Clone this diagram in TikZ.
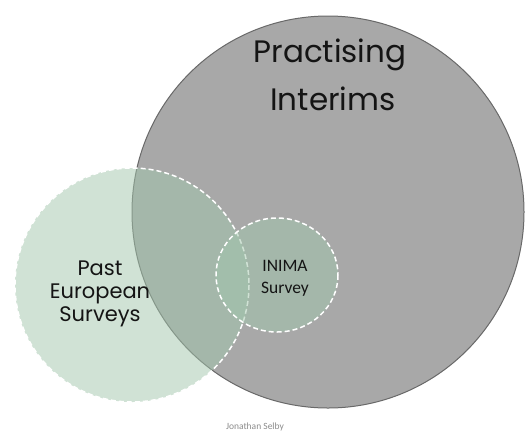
\documentclass[tikz,border=0pt]{standalone}
\usepackage{fontspec}
\newfontfamily\poppinsfont{Poppins}
\newfontfamily\carlitofont{Carlito}
\begin{document}
\begin{tikzpicture}[x=1pt,y=-1pt,
  setlabel/.style={inner sep=0, outer sep=0, anchor=base, custcol_txt},
  greenset/.style={fill=custcol_green, fill opacity=0.5, draw=white, line width=1.5pt, dash pattern=on 5pt off 3pt}]
\definecolor{custcol_grey}{RGB}{168, 168, 168}
\definecolor{custcol_edge}{RGB}{105, 105, 105}
\definecolor{custcol_green}{RGB}{162, 198, 172}
\definecolor{custcol_txt}{RGB}{20, 20, 20}
\definecolor{custcol_author}{RGB}{140, 140, 140}
\useasboundingbox (0,0) rectangle (526,432);
\fill [white] (0,0) rectangle (526,432);
% the three sets
\draw [line width=1.0pt, custcol_edge, fill=custcol_grey]  (328,212) circle (196);
\draw [greenset]  (132,285) circle (117);
\draw [greenset]  (277,275) ellipse (61 and 57);
% labels
\node[setlabel, font=\poppinsfont\fontsize{31pt}{31pt}\selectfont] (practising) at (330,62) {Practising};
\node[setlabel, font=\poppinsfont\fontsize{31pt}{31pt}\selectfont] (interims) at (333,110) {Interims};
\node[setlabel, font=\poppinsfont\fontsize{21pt}{21pt}\selectfont] (past) at (100,275) {Past};
\node[setlabel, font=\poppinsfont\fontsize{21pt}{21pt}\selectfont] (european) at (100,298) {European};
\node[setlabel, font=\poppinsfont\fontsize{21pt}{21pt}\selectfont] (surveys) at (100,321) {Surveys};
\node[setlabel, font=\carlitofont\fontsize{17.5pt}{17.5pt}\selectfont] (inima) at (285,271) {INIMA};
\node[setlabel, font=\carlitofont\fontsize{17.5pt}{17.5pt}\selectfont] (survey) at (285,293) {Survey};
\node[setlabel, custcol_author, font=\carlitofont\fontsize{9.5pt}{9.5pt}\selectfont] (author) at (255,429) {Jonathan Selby};
\end{tikzpicture}
\end{document}
